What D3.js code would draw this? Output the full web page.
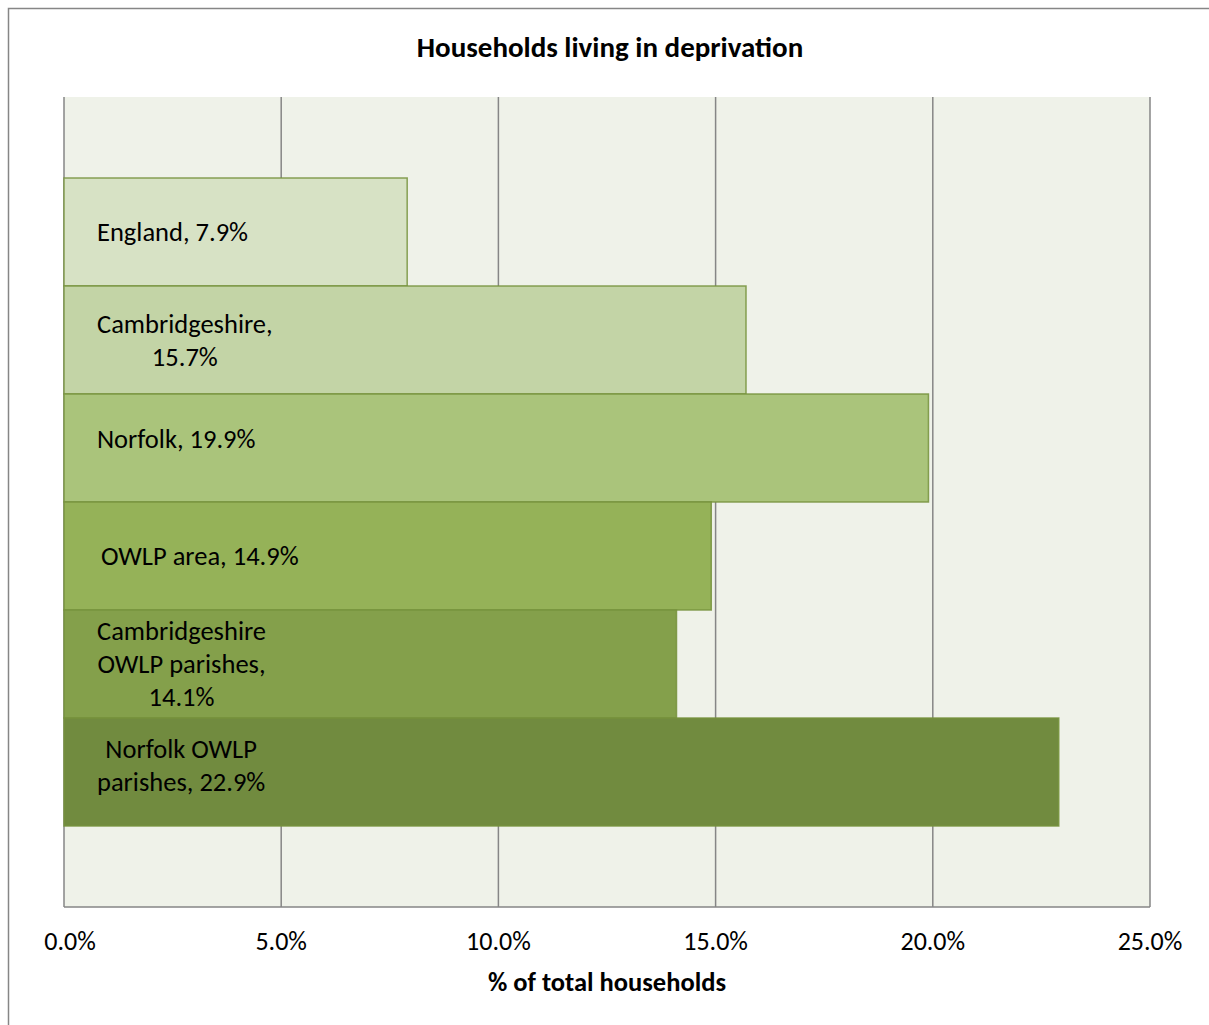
<!DOCTYPE html>
<html>
<head>
<meta charset="utf-8">
<script src="https://cdn.jsdelivr.net/npm/d3@7"></script>
<style>
  body { margin: 0; background: #fff; }
  text { font-family: Carlito, "Open Sans", sans-serif; fill: #000; }
</style>
</head>
<body>
<div id="chart"></div>
<script>
// chart data
var categories = ["England", "Cambridgeshire", "Norfolk", "OWLP area", "Cambridgeshire OWLP parishes", "Norfolk OWLP parishes"];
var values = [7.9, 15.7, 19.9, 14.9, 14.1, 22.9];
var labelLines = [
	["England, 7.9%"],
	["Cambridgeshire,", "15.7%"],
	["Norfolk, 19.9%"],
	["OWLP area, 14.9%"],
	["Cambridgeshire", "OWLP parishes,", "14.1%"],
	["Norfolk OWLP", "parishes, 22.9%"]
];
var ticks = [0, 5, 10, 15, 20, 25];
var barColors = ["#d7e2c5", "#c3d4a6", "#aac47b", "#95b258", "#84a04b", "#718b3f"];

var W = 1209, H = 1025;
var plot = { left: 64, right: 1150, top: 97, bottom: 907 };

var svg = d3.select("#chart").append("svg")
	.attr("width", W)
	.attr("height", H);

// outer chart frame (right and bottom edges run off the picture)
svg.append("rect")
	.attr("x", 8.5).attr("y", 8.5)
	.attr("width", W + 20).attr("height", H + 20)
	.attr("fill", "#fff")
	.attr("stroke", "#868686")
	.attr("stroke-width", 1.5);

var x = d3.scaleLinear().domain([0, 25]).range([plot.left, plot.right]);
var y = d3.scaleBand().domain(categories)
	.range([plot.top, plot.bottom])
	.paddingInner(0)
	.paddingOuter(0.75);

// plot background
svg.append("rect")
	.attr("x", plot.left).attr("y", plot.top)
	.attr("width", plot.right - plot.left)
	.attr("height", plot.bottom - plot.top)
	.attr("fill", "#eff2e9");

// vertical gridlines
svg.append("g").selectAll("line")
	.data(ticks)
	.join("line")
	.attr("x1", function (d) { return x(d); })
	.attr("x2", function (d) { return x(d); })
	.attr("y1", plot.top)
	.attr("y2", plot.bottom)
	.attr("stroke", "#868686")
	.attr("stroke-width", 1.5);

// bottom axis line
svg.append("line")
	.attr("x1", plot.left).attr("x2", plot.right)
	.attr("y1", plot.bottom).attr("y2", plot.bottom)
	.attr("stroke", "#868686")
	.attr("stroke-width", 1.5);

// bars
svg.append("g").selectAll("rect")
	.data(categories)
	.join("rect")
	.attr("x", x(0))
	.attr("y", function (d) { return y(d); })
	.attr("width", function (d, i) { return x(values[i]) - x(0); })
	.attr("height", y.bandwidth())
	.attr("fill", function (d, i) { return barColors[i]; })
	.attr("stroke", "#76923c")
	.attr("stroke-opacity", 0.85)
	.attr("stroke-width", 1.5);

// bar labels: lines centred inside a block that starts near the base
var lineH = 33;
var labelG = svg.append("g");
categories.forEach(function (c, i) {
	var lines = labelLines[i];
	var cy = y(c) + y.bandwidth() / 2;
	if (i === 2) cy -= 9;
	if (i === 5) cy -= 7;
	var g = labelG.append("g");
	var texts = lines.map(function (s, k) {
		return g.append("text")
			.attr("font-size", 26.5)
			.attr("dominant-baseline", "central")
			.attr("text-anchor", "middle")
			.attr("y", cy + (k - (lines.length - 1) / 2) * lineH)
			.text(s);
	});
	var maxW = d3.max(texts, function (t) { return t.node().getComputedTextLength(); });
	var x0 = (i === 3) ? 101 : 97;
	var cx = x0 + maxW / 2;
	texts.forEach(function (t) { t.attr("x", cx); });
});

// tick labels
svg.append("g").selectAll("text")
	.data(ticks)
	.join("text")
	.attr("x", function (d, i) { return i === 0 ? x(d) + 6 : x(d); })
	.attr("y", 941)
	.attr("font-size", 26)
	.attr("text-anchor", "middle")
	.attr("dominant-baseline", "central")
	.text(function (d) { return d.toFixed(1) + "%"; });

// titles
svg.append("text")
	.attr("x", 610).attr("y", 47)
	.attr("font-size", 29)
	.attr("font-weight", "bold")
	.attr("text-anchor", "middle")
	.attr("dominant-baseline", "central")
	.text("Households living in deprivation");

svg.append("text")
	.attr("x", 607).attr("y", 982)
	.attr("font-size", 26.5)
	.attr("font-weight", "bold")
	.attr("text-anchor", "middle")
	.attr("dominant-baseline", "central")
	.text("% of total households");
</script>
</body>
</html>
